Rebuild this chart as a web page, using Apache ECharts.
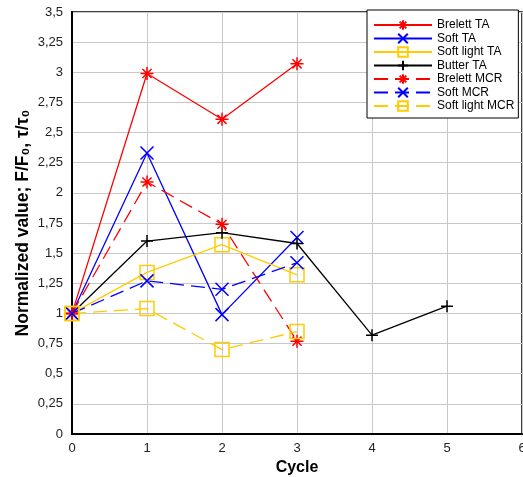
<!DOCTYPE html>
<html><head><meta charset="utf-8">
<script src="https://cdn.jsdelivr.net/npm/echarts@6/dist/echarts.min.js"></script>
<style>html,body{margin:0;padding:0;background:#fff;overflow:hidden}#c{width:523px;height:477px}</style>
</head><body><div id="c"></div>
<script>
const seriesNames = ["Brelett TA","Soft TA","Soft light TA","Butter TA","Brelett MCR","Soft MCR","Soft light MCR"];
const brelettTA = [[0,1],[1,2.99],[2,2.61],[3,3.07]];
const softTA = [[0,1],[1,2.33],[2,0.99],[3,1.63]];
const softLightTA = [[0,1],[1,1.34],[2,1.57],[3,1.32]];
const butterTA = [[0,1],[1,1.6],[2,1.67],[3,1.58],[4,0.82],[5,1.06]];
const brelettMCR = [[0,1],[1,2.09],[2,1.74],[3,0.77]];
const softMCR = [[0,1],[1,1.27],[2,1.2],[3,1.42]];
const softLightMCR = [[0,1],[1,1.04],[2,0.7],[3,0.85]];
const xTicks = [0,1,2,3,4,5,6];
const yTicks = [0,0.25,0.5,0.75,1,1.25,1.5,1.75,2,2.25,2.5,2.75,3,3.25,3.5];

const STAR = 'path://M5,0L5,10M0,5L10,5M1.5,1.5L8.5,8.5M8.5,1.5L1.5,8.5';
const XS = 'path://M0,0L10,10M10,0L0,10';
const SQ = 'path://M0,0L10,0L10,10L0,10Z';
const PLUS = 'path://M5,0L5,10M0,5L10,5';

function mk(name, data, color, sym, size, dashed){
  return {
    name, type:'line', data, symbol:sym, symbolSize:size,
    lineStyle:{color, width:1.3, type: dashed ? [14,7] : 'solid'},
    itemStyle:{color:'rgba(0,0,0,0)', borderColor:color, borderWidth:1.5},
    color, emphasis:{disabled:true}, animation:false
  };
}
const chart = echarts.init(document.getElementById('c'));
chart.setOption({
  backgroundColor:'#fff',
  animation:false,
  grid:{left:72, right:1, top:12, bottom:43, show:true, borderColor:'#000', borderWidth:1.5,
        outerBoundsMode:'none', containLabel:false},
  legend:{
    orient:'vertical', left:367, top:10, data:seriesNames,
    backgroundColor:'#fff', borderColor:'#000', borderWidth:1,
    padding:[9,4,6,6], itemWidth:58, itemHeight:12, itemGap:1.5,
    textStyle:{fontFamily:'Liberation Sans, Arial', fontSize:12, color:'#000'}
  },
  xAxis:{
    type:'value', min:0, max:6, interval:1,
    name:'Cycle', nameLocation:'middle', nameGap:26, nameMoveOverlap:false,
    nameTextStyle:{fontFamily:'Liberation Sans, Arial', fontWeight:'bold', fontSize:16, color:'#000'},
    axisLine:{show:true, lineStyle:{color:'#000', width:2}},
    axisTick:{show:false},
    axisLabel:{fontFamily:'Liberation Sans, Arial', fontSize:13, color:'#222', margin:8,
      formatter:v=>xTicks.includes(v)?String(v):''},
    splitLine:{show:true, lineStyle:{color:'#c8c8c8', width:1}}
  },
  yAxis:{
    type:'value', min:0, max:3.5, interval:0.25,
    name:'Normalized value; F/F\u2080, \u03c4/\u03c4\u2080', nameLocation:'middle', nameGap:40, nameMoveOverlap:false,
    nameTextStyle:{fontFamily:'Liberation Sans, Arial', fontWeight:'bold', fontSize:17.5, color:'#000'},
    axisLine:{show:true, lineStyle:{color:'#000', width:2}},
    axisTick:{show:false},
    axisLabel:{fontFamily:'Liberation Sans, Arial', fontSize:13, color:'#222', margin:9,
      formatter:v=>{const t=yTicks.find(k=>Math.abs(k-v)<1e-9);return t===undefined?'':String(t).replace('.',',');}},
    splitLine:{show:true, lineStyle:{color:'#c8c8c8', width:1}}
  },
  series:[
    mk(seriesNames[0], brelettTA, '#ff0000', STAR, 13, false),
    mk(seriesNames[1], softTA, '#0000ff', XS, 13, false),
    mk(seriesNames[2], softLightTA, '#ffcc00', SQ, 14, false),
    mk(seriesNames[3], butterTA, '#000000', PLUS, 12, false),
    mk(seriesNames[4], brelettMCR, '#ff0000', STAR, 13, true),
    mk(seriesNames[5], softMCR, '#0000ff', XS, 13, true),
    mk(seriesNames[6], softLightMCR, '#ffcc00', SQ, 14, true)
  ]
});
</script></body></html>
